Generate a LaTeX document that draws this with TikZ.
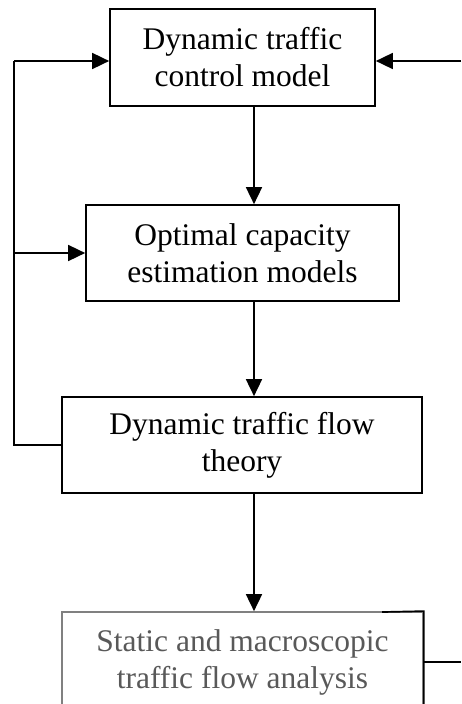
\documentclass[tikz,border=0pt]{standalone}
\usepackage{fontspec}
\setmainfont{Liberation Serif}
\usetikzlibrary{arrows.meta}

\begin{document}
\begin{tikzpicture}[x=1pt, y=-1pt,
  box/.style={draw, line width=1.7pt, align=center, inner sep=0pt,
    font=\fontsize{31.5}{37}\selectfont},
  link/.style={line width=1.7pt},
  arr/.style={link, -{Triangle[length=17pt, width=16pt]}}]

  % page frame
  \fill[white] (0,0) rectangle (461,704);
  \useasboundingbox (0,0) rectangle (461,704);

  % process boxes
  \node[box, minimum width=265pt, minimum height=97pt] (box1) at (242.5,57.5)
    {Dynamic traffic\\control model};
  \node[box, minimum width=313pt, minimum height=96pt] (box2) at (242.5,253)
    {Optimal capacity\\estimation models};
  \node[box, minimum width=360pt, minimum height=96pt] (box3) at (242,445)
    {Dynamic traffic flow\\theory};
  \begin{scope}
    \clip (0,0) rectangle (461,704);
    \node[box, draw=black!50, text=black!65, minimum width=361pt, minimum height=100pt]
      (box4) at (242.5,662) {Static and macroscopic\\traffic flow analysis};
    \draw[link, line cap=rect] (383,612) -- (box4.north east) -- (box4.south east);
  \end{scope}

  % main vertical chain
  \coordinate (ax) at (254,0);
  \draw[arr] (ax |- box1.south) -- (ax |- box2.north);
  \draw[arr] (ax |- box2.south) -- (ax |- box3.north);
  \draw[arr] (ax |- box3.south) -- (ax |- box4.north);

  % feedback loop on the left
  \coordinate (lt) at (14,61);
  \coordinate (lb) at (14,445);
  \draw[link] (box3.west) -- (lb) -- (lt);
  \draw[arr] (lt) -- (lt -| box1.west);
  \draw[arr] (lb |- box2.west) -- (box2.west);

  % external inputs on the right
  \coordinate (rin) at (461,61);
  \coordinate (rout) at (461,662);
  \draw[arr] (rin) -- (rin -| box1.east);
  \draw[link] (box4.east) -- (rout);
\end{tikzpicture}
\end{document}
